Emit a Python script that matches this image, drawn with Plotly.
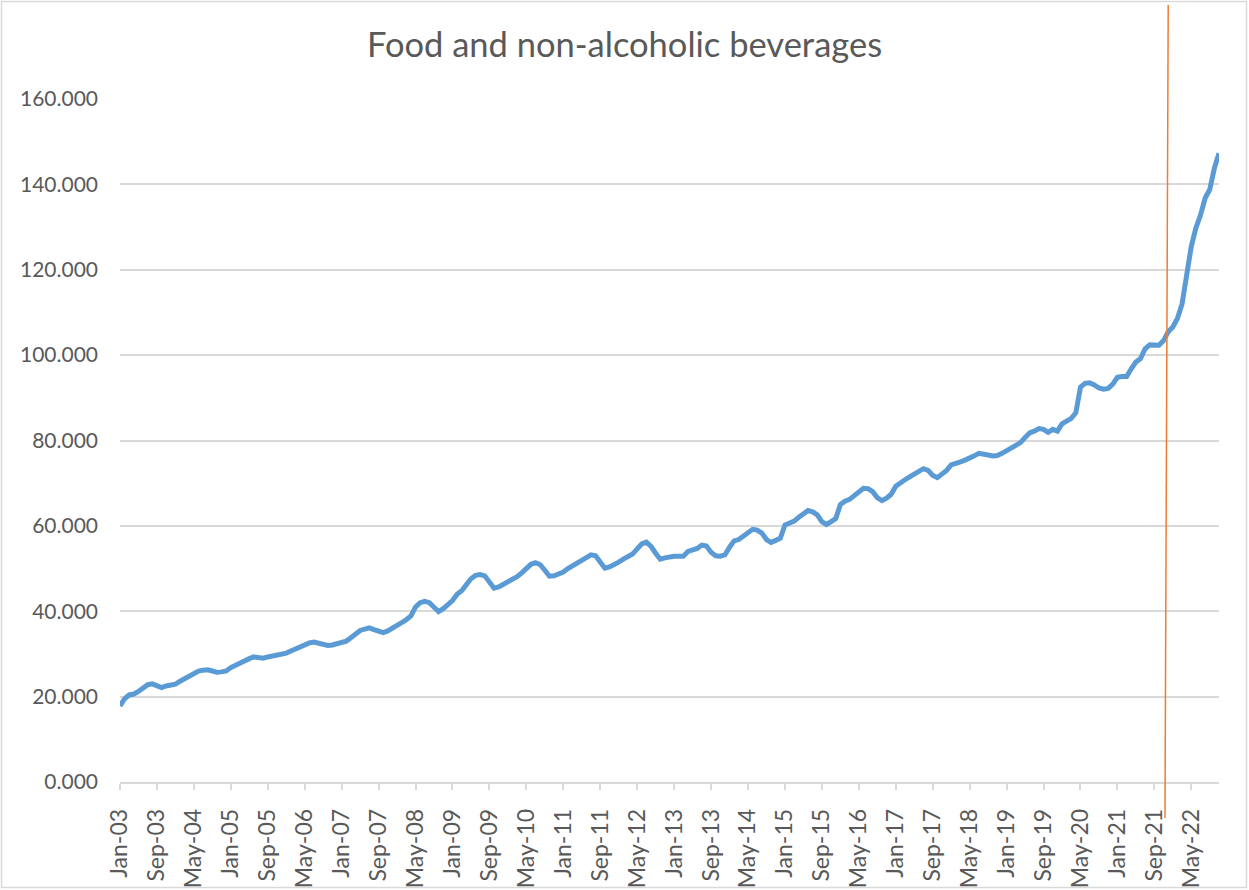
import pandas as pd
import plotly.graph_objects as go

# Monthly index, Food and non-alcoholic beverages, Jan-03 .. Nov-22
food_index = [
    # 2003
    17.8, 19.5, 20.4, 20.6, 21.2, 22.1, 22.8, 23.0, 22.5, 22.1, 22.5, 22.8,
    # 2004
    22.9, 23.6, 24.2, 24.8, 25.3, 26.0, 26.2, 26.3, 26.0, 25.7, 25.8, 26.0,
    # 2005
    26.8, 27.4, 27.9, 28.5, 28.9, 29.3, 29.2, 29.0, 29.3, 29.5, 29.7, 29.9,
    # 2006
    30.2, 30.7, 31.2, 31.8, 32.3, 32.6, 32.8, 32.5, 32.2, 32.0, 32.1, 32.4,
    # 2007
    32.7, 33.0, 33.8, 34.6, 35.5, 35.8, 36.1, 35.7, 35.2, 35.0, 35.4, 36.0,
    # 2008
    36.5, 37.2, 38.0, 38.9, 41.0, 42.0, 42.3, 42.0, 41.0, 39.9, 40.6, 41.4,
    # 2009
    42.5, 44.0, 44.8, 46.2, 47.6, 48.4, 48.6, 48.3, 46.8, 45.4, 45.7, 46.3,
    # 2010
    46.8, 47.4, 48.1, 49.0, 50.0, 51.0, 51.4, 50.9, 49.6, 48.2, 48.3, 48.6,
    # 2011
    49.2, 50.0, 50.7, 51.2, 52.0, 52.8, 53.2, 53.0, 51.6, 50.1, 50.4, 50.8,
    # 2012
    51.5, 52.2, 52.8, 53.4, 54.6, 55.8, 56.2, 55.2, 53.6, 52.2, 52.5, 52.8,
    # 2013
    52.9, 52.9, 52.9, 54.0, 54.2, 54.7, 55.5, 55.3, 53.8, 53.0, 52.9, 53.2,
    # 2014
    55.0, 56.5, 56.8, 57.5, 58.3, 59.2, 59.0, 58.3, 56.8, 56.1, 56.6, 57.1,
    # 2015
    60.2, 60.6, 61.1, 62.0, 62.8, 63.6, 63.3, 62.6, 61.0, 60.3, 61.0, 61.7,
    # 2016
    65.0, 65.8, 66.2, 67.2, 68.0, 68.8, 68.7, 68.0, 66.6, 65.9, 66.5, 67.4,
    # 2017
    69.3, 70.2, 70.8, 71.5, 72.2, 72.9, 73.4, 73.0, 71.8, 71.3, 72.1, 73.0,
    # 2018
    74.3, 74.8, 75.0, 75.4, 75.8, 76.4, 77.0, 76.9, 76.6, 76.4, 76.5, 77.0,
    # 2019
    77.6, 78.2, 78.6, 79.5, 80.7, 81.8, 82.2, 82.8, 82.6, 81.9, 82.6, 82.2,
    # 2020
    83.9, 84.4, 85.2, 86.5, 92.5, 93.4, 93.5, 93.0, 92.3, 92.0, 92.2, 93.2,
    # 2021
    94.8, 95.0, 95.0, 96.8, 98.4, 99.2, 101.5, 102.4, 102.4, 102.3, 103.4, 105.5,
    # 2022
    106.6, 108.6, 112.0, 118.5, 125.5, 129.8, 132.8, 136.8, 138.8, 143.8, 147.3,
]

months = list(pd.date_range("2003-01-01", periods=len(food_index), freq="MS").strftime("%b-%y"))

tick_labels = [
    "Jan-03", "Sep-03", "May-04", "Jan-05", "Sep-05", "May-06", "Jan-07", "Sep-07",
    "May-08", "Jan-09", "Sep-09", "May-10", "Jan-11", "Sep-11", "May-12", "Jan-13",
    "Sep-13", "May-14", "Jan-15", "Sep-15", "May-16", "Jan-17", "Sep-17", "May-18",
    "Jan-19", "Sep-19", "May-20", "Jan-21", "Sep-21", "May-22",
]

y_ticks = [0, 20, 40, 60, 80, 100, 120, 140, 160]

# hand-drawn marker line (category positions at its lower and upper ends)
marker_x_bottom = 226.3
marker_x_top = 227.0

W, H = 1249, 890
ML, MR, MT, MB = 120, 30, 99, 108
PW, PH = W - ML - MR, H - MT - MB


def px_to_paper_x(px):
    return (px - ML) / PW


def px_to_paper_y(py):
    return (H - MB - py) / PH


FONT = "Lato, 'Open Sans', sans-serif"
TEXT = "#595959"
GRID = "#D9D9D9"

fig = go.Figure()
fig.add_trace(go.Scatter(
    x=months,
    y=food_index,
    mode="lines",
    line=dict(color="#5B9BD5", width=5),
    hoverinfo="x+y",
    showlegend=False,
))

fig.update_layout(
    width=W,
    height=H,
    margin=dict(l=ML, r=MR, t=MT, b=MB, autoexpand=False),
    paper_bgcolor="white",
    plot_bgcolor="white",
    font=dict(family=FONT, color=TEXT, size=22),
    title=dict(
        text="Food and non-alcoholic beverages",
        x=0.5, xref="container", xanchor="center",
        y=1 - 45 / H, yref="container", yanchor="middle",
        font=dict(family=FONT, size=34.5, color=TEXT),
    ),
    xaxis=dict(
        type="category",
        categoryorder="array",
        categoryarray=months,
        range=[0, len(months) - 1],
        tickmode="array",
        tickvals=tick_labels,
        ticktext=tick_labels,
        tickangle=-90,
        ticks="outside",
        ticklen=6,
        tickwidth=1.5,
        tickcolor=GRID,
        showline=True,
        linecolor=GRID,
        linewidth=1.5,
        showgrid=False,
        zeroline=False,
        ticklabelstandoff=10,
        tickfont=dict(family=FONT, size=23, color=TEXT),
    ),
    yaxis=dict(
        range=[0, 160],
        tickmode="array",
        tickvals=y_ticks,
        tickformat=".3f",
        showgrid=True,
        gridcolor=GRID,
        gridwidth=1.5,
        zeroline=False,
        showline=False,
        ticks="",
        ticklabelstandoff=21,
        tickfont=dict(family=FONT, size=21, color=TEXT),
    ),
    shapes=[
        # chart border
        dict(
            type="rect", xref="paper", yref="paper",
            x0=px_to_paper_x(1.5), x1=px_to_paper_x(W - 2.5),
            y0=px_to_paper_y(H - 2.5), y1=px_to_paper_y(1.5),
            line=dict(color=GRID, width=1.5), fillcolor="rgba(0,0,0,0)",
            layer="below",
        ),
        # orange vertical marker
        dict(
            type="line", xref="x", yref="paper",
            x0=marker_x_bottom, x1=marker_x_top,
            y0=px_to_paper_y(818), y1=px_to_paper_y(5),
            line=dict(color="#ED7D31", width=1.5),
            layer="above",
        ),
    ],
)

fig.write_html("out.html")
